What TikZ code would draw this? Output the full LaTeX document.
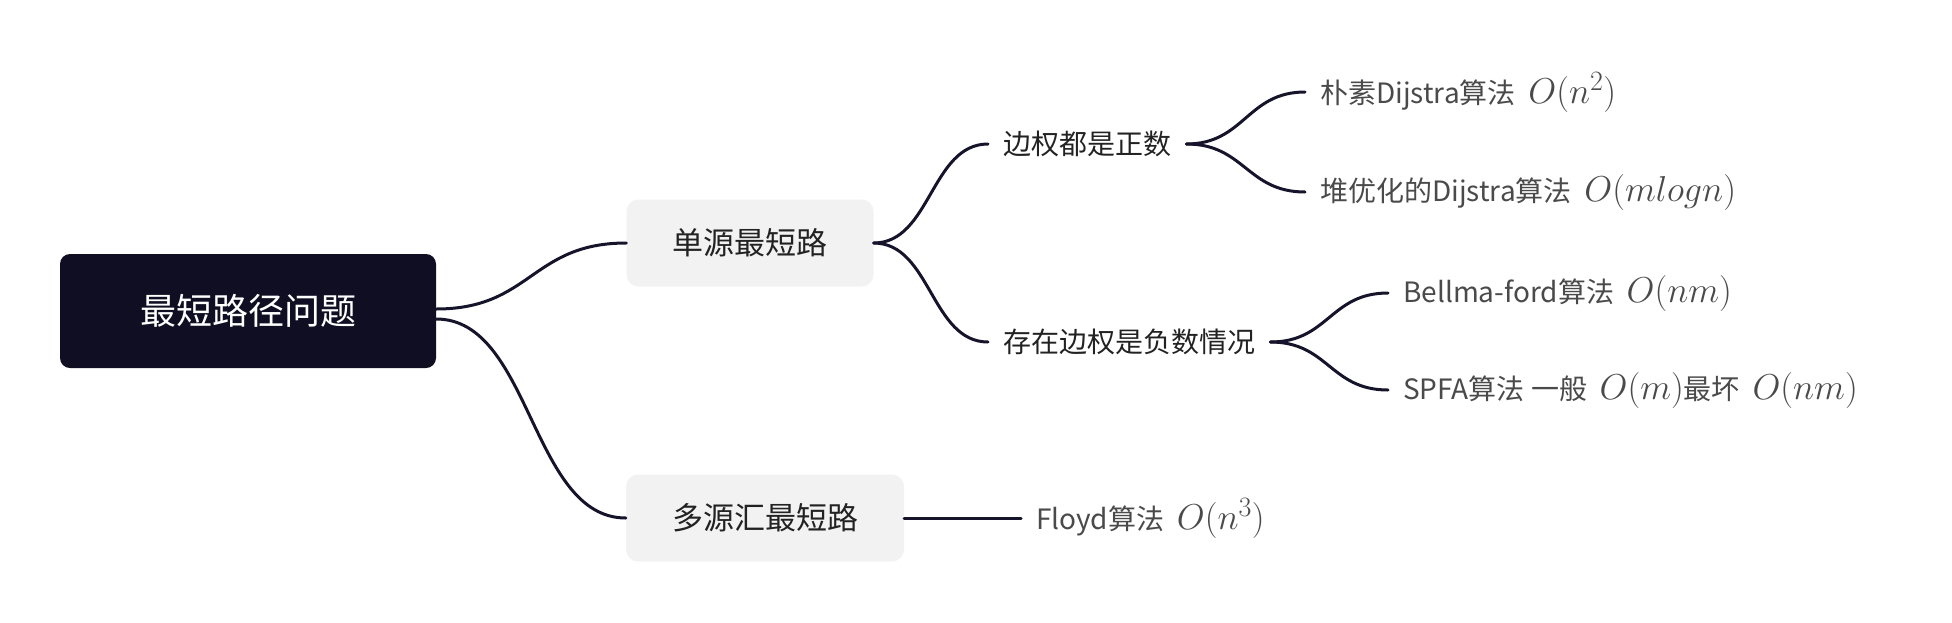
\RequirePackage{fix-cm}
\documentclass[tikz,border=0pt]{standalone}
\usepackage[no-math]{fontspec}
\setmainfont{Noto Sans CJK SC}
\usetikzlibrary{positioning}
\definecolor{rootdark}{HTML}{100E22}
\definecolor{boxgray}{HTML}{F2F2F2}
\definecolor{linkdark}{HTML}{16142B}
\definecolor{textdark}{HTML}{222222}
\definecolor{leafgray}{HTML}{4A4A4A}
\DeclareMathSizes{36}{36}{28}{20}
\newcommand{\cost}[1]{{\fontsize{36}{40}\selectfont$O(#1)$}}

\begin{document}
\begin{tikzpicture}[x=1pt,y=-1pt,
  rootbox/.style={fill=rootdark,text=white,rounded corners=10pt,font=\fontsize{36}{40}\selectfont,minimum width=376pt,minimum height=114pt},
  subbox/.style={fill=boxgray,text=textdark,rounded corners=12pt,font=\fontsize{31}{36}\selectfont,inner xsep=46pt,minimum height=87pt},
  midtext/.style={text=textdark,font=\fontsize{28}{32}\selectfont,inner xsep=15pt,anchor=west},
  leaf/.style={text=leafgray,font=\fontsize{28}{32}\selectfont,inner xsep=15pt,anchor=west},
  link/.style={draw=linkdark,line width=3pt,line cap=round}]
  \useasboundingbox (0,0) rectangle (1952,622);
  % main topic and the two branches
  \node[rootbox] (root) at (248,311) {最短路径问题};
  \node[subbox] (single) at (750,243) {单源最短路};
  \node[subbox] (multi) at (765,518) {多源汇最短路};
  \node[midtext] (pos) at (988,144) {边权都是正数};
  \node[midtext] (neg) at (988,342) {存在边权是负数情况};
  % leaves
  \node[leaf] (naive) at (1305,92) {朴素Dijstra算法\ \ \cost{n^2}};
  \node[leaf] (heap) at (1305,192) {堆优化的Dijstra算法\ \ \cost{mlogn}};
  \node[leaf] (bellman) at (1388,293) {Bellma-ford算法\ \ \cost{nm}};
  \node[leaf] (spfa) at (1388,390) {SPFA算法 一般\ \ \cost{m}最坏\ \ \cost{nm}};
  \node[leaf] (floyd) at (1021,518) {Floyd算法\ \ \cost{n^3}};
  % connectors
  \draw[link] ([yshift=2pt]root.east) .. controls +(95,0) and +(-95,0) .. (single.west);
  \draw[link] ([yshift=-8pt]root.east) .. controls +(95,0) and +(-95,0) .. (multi.west);
  \draw[link] (single.east) .. controls +(57,0) and +(-57,0) .. (pos.west);
  \draw[link] (single.east) .. controls +(57,0) and +(-57,0) .. (neg.west);
  \draw[link] (pos.east) .. controls +(58,0) and +(-58,0) .. (naive.west);
  \draw[link] (pos.east) .. controls +(58,0) and +(-58,0) .. (heap.west);
  \draw[link] (neg.east) .. controls +(58,0) and +(-58,0) .. (bellman.west);
  \draw[link] (neg.east) .. controls +(58,0) and +(-58,0) .. (spfa.west);
  \draw[link] (multi.east) -- (floyd.west);
\end{tikzpicture}
\end{document}
